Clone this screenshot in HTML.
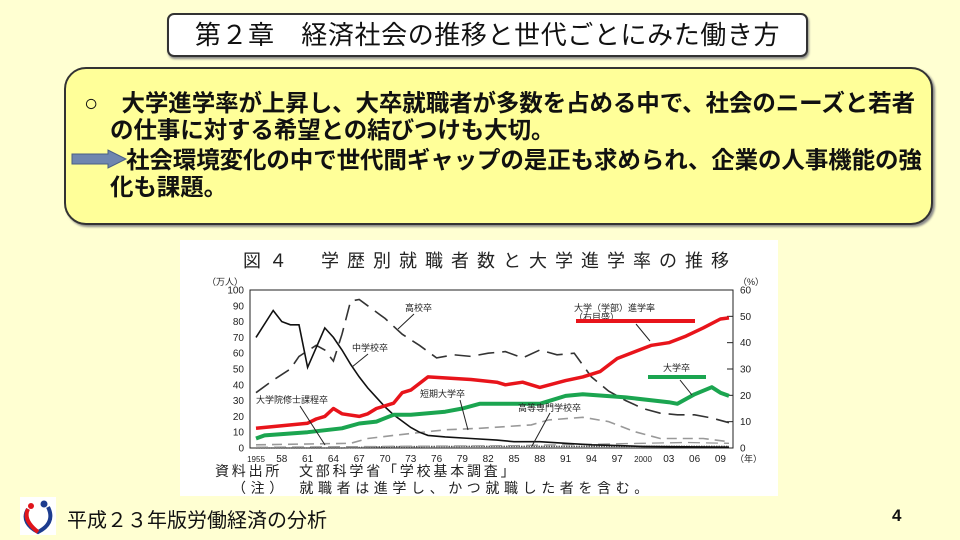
<!DOCTYPE html>
<html><head><meta charset="utf-8">
<style>
body{margin:0;width:960px;height:540px;background:#FFFFD2;overflow:hidden;font-family:"Liberation Sans","Noto Sans CJK JP",sans-serif;position:relative}
.abs{position:absolute}
#title-box{left:167px;top:13px;width:637px;height:40px;background:#fff;border:2px solid #333;border-radius:7px;box-shadow:1px 2px 2px #888;text-align:center;font-size:26px;line-height:40px;color:#111;letter-spacing:0.6px}
#summary-box{left:64px;top:67px;width:865px;height:154px;background:#FFFF99;border:2px solid #333;border-radius:22px;box-shadow:2px 2px 2px #888}
.txt{font-size:23.5px;font-weight:bold;color:#111;white-space:nowrap;letter-spacing:-0.1px;line-height:26px}
</style></head><body>
<div id="title-box" class="abs">第２章　経済社会の推移と世代ごとにみた働き方</div>
<div id="summary-box" class="abs"></div>
<div class="abs txt" style="left:84px;top:90px">○　大学進学率が上昇し、大卒就職者が多数を占める中で、社会のニーズと若者</div>
<div class="abs txt" style="left:110px;top:117px">の仕事に対する希望との結びつけも大切。</div>
<svg class="abs" style="left:70px;top:149px" width="60" height="20"><polygon points="2,5 38,5 38,1 56,10 38,19 38,15 2,15" fill="#6F86AF" stroke="#4a5f85"/></svg>
<div class="abs txt" style="left:126px;top:147px">社会環境変化の中で世代間ギャップの是正も求められ、企業の人事機能の強</div>
<div class="abs txt" style="left:110px;top:174px">化も課題。</div>

<svg class="abs" style="left:0;top:0" width="960" height="540" id="chart">
<rect x="180" y="240" width="598" height="256" fill="#fff"/>
<text x="243" y="267" font-size="18" letter-spacing="8" fill="#222" font-family="Liberation Sans, Noto Sans CJK JP, sans-serif">図４　学歴別就職者数と大学進学率の推移</text>
<text x="207" y="285" font-size="9" fill="#222">（万人）</text>
<text x="738" y="285" font-size="9" fill="#222">（%）</text>
<rect x="250" y="290" width="483" height="158" fill="none" stroke="#222" stroke-width="1"/>
<g id="axes"></g><g id="series"></g>
<g font-size="9" fill="#222" font-family="Liberation Sans, Noto Sans CJK JP, sans-serif">
<text x="405" y="311">高校卒</text>
<line x1="414" y1="314" x2="398" y2="329" stroke="#222"/>
<text x="352" y="351">中学校卒</text>
<line x1="368" y1="354" x2="352" y2="367" stroke="#222"/>
<text x="256" y="403">大学院修士課程卒</text>
<line x1="300" y1="406" x2="325" y2="445" stroke="#222"/>
<text x="420" y="397">短期大学卒</text>
<line x1="460" y1="400" x2="468" y2="430" stroke="#222"/>
<text x="518" y="411">高等専門学校卒</text>
<line x1="550" y1="413" x2="532" y2="446" stroke="#222"/>
<text x="574" y="311">大学（学部）進学率</text>
<text x="574" y="320">（右目盛）</text>
<rect x="576" y="319" width="119" height="4" fill="#E8141B"/>
<line x1="636" y1="324" x2="650" y2="341" stroke="#222"/>
<text x="663" y="371">大学卒</text>
<rect x="648" y="375" width="58" height="4" fill="#1BA550"/>
<line x1="680" y1="380" x2="692" y2="395" stroke="#222"/>
</g>
<text x="215" y="476" font-size="14" fill="#222" letter-spacing="2.8">資料出所　文部科学省「学校基本調査」</text>
<text x="232" y="493" font-size="14" fill="#222" letter-spacing="4.6">（注）　就職者は進学し、かつ就職した者を含む。</text>
</svg>

<svg class="abs" style="left:20px;top:497px" width="36" height="38">
<rect width="36" height="38" fill="#fff"/>
<path d="M8 12 C2 22,8 30,18 35 C28 30,34 22,28 10" fill="none" stroke="#1D3C8F" stroke-width="4"/>
<path d="M8 12 C4 20,9 28,18 35" fill="none" stroke="#E0141B" stroke-width="4"/>
<circle cx="24" cy="7" r="3.5" fill="#1D3C8F"/><circle cx="11" cy="9" r="3" fill="#E0141B"/>
</svg>
<div class="abs" style="left:67px;top:504px;font-size:20px;color:#111">平成２３年版労働経済の分析</div>
<div class="abs" style="left:892px;top:506px;font-size:17px;font-weight:bold;color:#111">4</div>

<script>
const leftTicks=[0,10,20,30,40,50,60,70,80,90,100];
const rightTicks=[0,10,20,30,40,50,60];
const yearLabels=["1955","58","61","64","67","70","73","76","79","82","85","88","91","94","97","2000","03","06","09"];
const yearTicks=[1955,1958,1961,1964,1967,1970,1973,1976,1979,1982,1985,1988,1991,1994,1997,2000,2003,2006,2009];
const middleYears=[1955,1957,1958,1959,1960,1961,1963,1964,1965,1966,1967,1968,1969,1970,1971,1972,1973,1974,1975,1977,1980,1983,1985,1988,1991,1994,1997,2000,2010];
const middleVals=[70,87,80,78,78,51,76,70,62,53,45,38,32,26,21,17,13,10,8,7,6,5,4,4,3,2,1.5,1,0.5];
const highYears=[1955,1957,1959,1960,1962,1963,1964,1965,1966,1967,1968,1970,1972,1974,1976,1978,1980,1982,1984,1986,1988,1990,1992,1994,1996,1998,2000,2002,2004,2006,2008,2010];
const highVals=[35,43,50,58,65,62,55,72,93,94,90,82,72,65,57,59,58,60,61,57,62,59,60,45,36,30,25,22,21,21,19,16];
const univYears=[1955,1956,1961,1965,1967,1969,1971,1973,1977,1979,1981,1984,1988,1991,1993,1998,2003,2004,2006,2008,2009,2010];
const univVals=[6,8,10,12.5,15.5,16.7,21,21,23,25,28,28,28,33,34,32,29,28,34,38.5,35,33];
const juniorYears=[1955,1963,1966,1968,1971,1977,1981,1987,1989,1993,1996,1999,2002,2007,2010];
const juniorVals=[2,2.7,3,6,8,11.5,12.5,14.6,17.7,19.4,16.7,10.4,6,6,4];
const gradYears=[1955,1965,1975,1985,1995,2000,2005,2010];
const gradVals=[0.5,0.8,1.2,1.5,2.5,3,3.5,3];
const techYears=[1955,1965,1970,1980,1990,2000,2010];
const techVals=[0,0,0.8,1,1,1,1];
const rateYears=[1955,1961,1962,1963,1964,1965,1967,1968,1969,1971,1972,1973,1975,1980,1983,1984,1986,1988,1991,1993,1995,1997,2001,2003,2005,2007,2009,2010];
const rateVals=[7.5,9.4,11,12,15,13,12,13,15,17,21,22,27,26,25,24,25,23,25.6,27,29,34,39,40,42.5,45.6,49,49.4];

const X=y=>256+(y-1955)*8.6;
const YL=v=>448-v*1.58;
const YR=v=>448-v*(158/60);
const NS="http://www.w3.org/2000/svg";
const axes=document.getElementById('axes'), series=document.getElementById('series');
function mk(tag,attrs,parent){const e=document.createElementNS(NS,tag);for(const k in attrs)e.setAttribute(k,attrs[k]);parent.appendChild(e);return e;}
leftTicks.forEach(v=>{
 const t=mk('text',{x:244,y:YL(v)+3.5,'font-size':10,'text-anchor':'end',fill:'#222'},axes);t.textContent=v;
 
 
});
rightTicks.forEach(v=>{
 const l=mk('line',{x1:727,x2:733,y1:YR(v),y2:YR(v),stroke:'#222'},axes);
 
 
 const t=mk('text',{x:740,y:YR(v)+3.5,'font-size':10,fill:'#222'},axes);t.textContent=v;
 
 
});
yearTicks.forEach((y,i)=>{
 const t=mk('text',{x:X(y),y:462,'font-size':yearLabels[i].length>2?8:10,'text-anchor':'middle',fill:'#222'},axes);t.textContent=yearLabels[i];
 
 
});
const u=mk('text',{x:735,y:462,'font-size':9,fill:'#222'},axes);u.textContent='（年）';


function line(ys,vs,sc,style,name){
 const d=ys.map((y,i)=>(i?'L':'M')+X(y).toFixed(1)+' '+sc(vs[i]).toFixed(1)).join(' ');
 const p=mk('path',Object.assign({d:d,fill:'none'},style),series);
 
 
}
line(techYears,techVals,YL,{stroke:'#555','stroke-width':1.5,'stroke-dasharray':'1.5,1'},'series-technical-college');
line(gradYears,gradVals,YL,{stroke:'#999','stroke-width':1.3,'stroke-dasharray':'12,6'},'series-graduate');
line(juniorYears,juniorVals,YL,{stroke:'#999','stroke-width':1.6,'stroke-dasharray':'10,6'},'series-junior-college');
line(highYears,highVals,YL,{stroke:'#333','stroke-width':1.6,'stroke-dasharray':'16,8'},'series-high-school');
line(middleYears,middleVals,YL,{stroke:'#111','stroke-width':1.6},'series-middle-school');
line(univYears,univVals,YL,{stroke:'#1BA550','stroke-width':4,'stroke-linejoin':'round'},'series-university');
line(rateYears,rateVals,YR,{stroke:'#E8141B','stroke-width':3.5,'stroke-linejoin':'round'},'series-entrance-rate');
</script>
</body></html>
